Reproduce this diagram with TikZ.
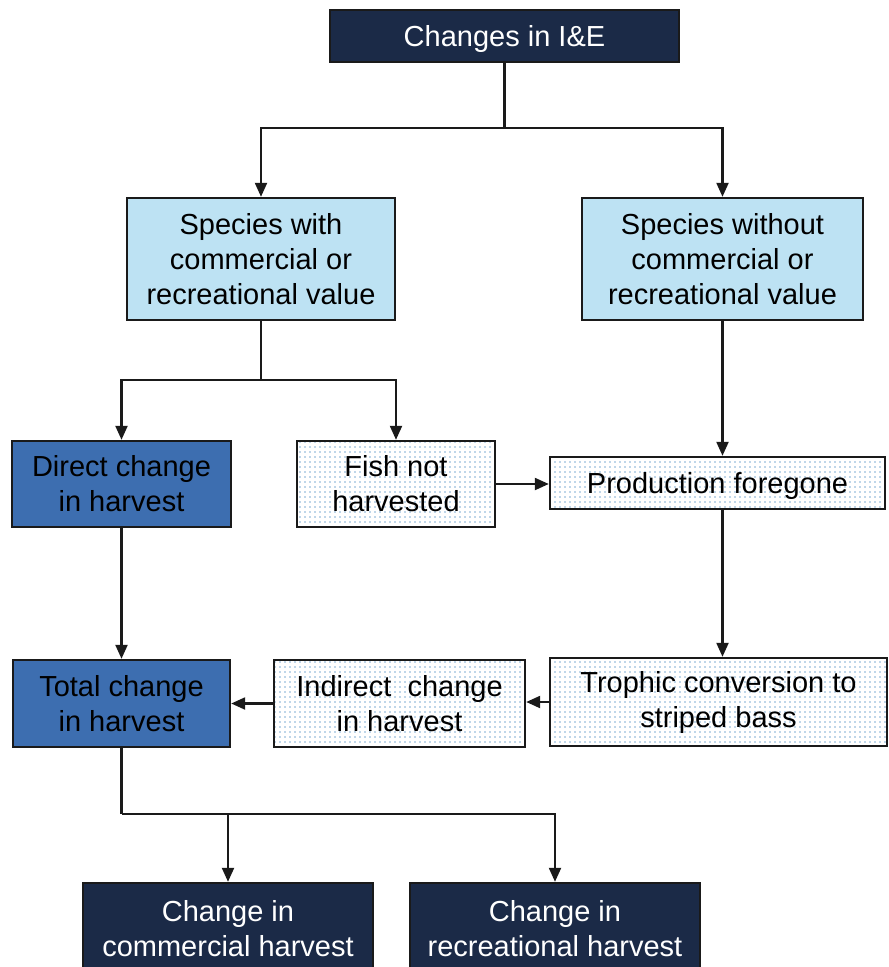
\documentclass[tikz,border=0pt]{standalone}
\usepackage{fontspec}
\setmainfont{Liberation Sans}
\usetikzlibrary{arrows.meta,patterns.meta}

\definecolor{navy}{HTML}{1B2A47}
\definecolor{paleblue}{HTML}{BDE2F3}
\definecolor{midblue}{HTML}{3D6EB0}
\definecolor{dotblue}{HTML}{7FAED4}
\definecolor{edge}{HTML}{1A1A1A}

\tikzset{
  box/.style={draw=edge, line width=2.4pt, inner sep=0pt, align=center,
    font=\fontsize{29}{35}\selectfont, text=black},
  oneline/.style={text depth=0pt},
  darkbox/.style={box, fill=navy, text=white},
  lightbox/.style={box, fill=paleblue},
  bluebox/.style={box, fill=midblue},
  dotbox/.style={box, preaction={fill=white},
    pattern={Dots[radius=0.9pt, distance=5pt]}, pattern color=dotblue},
  link/.style={draw=edge, line width=2.2pt},
  arr/.style={link, -{Triangle[length=14pt, width=12pt]}},
}

\begin{document}
\begin{tikzpicture}[x=1pt, y=-1pt]
  \useasboundingbox (0,0) rectangle (889,967);
  \clip (0,0) rectangle (889,967);
  \fill[white] (0,0) rectangle (889,967);

  % boxes
  \node[darkbox, oneline, minimum width=349pt, minimum height=52pt] (top) at (504.5,36) {Changes in I\&E};
  \node[lightbox, minimum width=268pt, minimum height=122pt] (swith) at (261,259)
    {Species with\\commercial or\\recreational value};
  \node[lightbox, minimum width=281pt, minimum height=122pt] (swithout) at (722.5,259)
    {Species without\\commercial or\\recreational value};
  \node[bluebox, minimum width=219pt, minimum height=86pt] (direct) at (121.5,484)
    {Direct change\\in harvest};
  \node[dotbox, minimum width=198pt, minimum height=86pt] (fish) at (396,484)
    {Fish not\\harvested};
  \node[dotbox, oneline, minimum width=335pt, minimum height=52pt] (prod) at (717.5,483)
    {Production foregone};
  \node[bluebox, minimum width=217pt, minimum height=87pt] (total) at (121.5,703.5)
    {Total change\\in harvest};
  \node[dotbox, minimum width=251pt, minimum height=87pt] (indirect) at (399.5,703.5)
    {Indirect\ \ change\\in harvest};
  \node[dotbox, minimum width=337pt, minimum height=88pt] (trophic) at (718.5,702)
    {Trophic conversion to\\striped bass};
  \node[darkbox, minimum width=290pt, minimum height=92pt] (comm) at (228,929)
    {Change in\\commercial harvest};
  \node[darkbox, minimum width=290pt, minimum height=92pt] (recr) at (555,929)
    {Change in\\recreational harvest};

  % junction points of the branching connectors
  \coordinate (j1) at (504.5,128);
  \coordinate (j2) at (261,380);
  \coordinate (j3) at (121.5,814);

  % connectors
  \draw[link] (top.south) -- (j1);
  \draw[arr] (j1) -| (swith.north);
  \draw[arr] (j1) -| (swithout.north);

  \draw[link] (swith.south) -- (j2);
  \draw[arr] (j2) -| (direct.north);
  \draw[arr] (j2) -| (fish.north);

  \draw[arr] (swithout.south) -- (swithout.south |- prod.north);
  \draw[arr] (fish.east) -- (fish.east -| prod.west);
  \draw[arr] (swithout.south |- prod.south) -- (swithout.south |- trophic.north);
  \draw[arr] (trophic.west) -- (trophic.west -| indirect.east);
  \draw[arr] (indirect.west) -- (indirect.west -| total.east);
  \draw[arr] (direct.south) -- (total.north);

  \draw[link] (total.south) -- (j3);
  \draw[arr] (j3) -| (comm.north);
  \draw[arr] (j3) -| (recr.north);
\end{tikzpicture}
\end{document}
